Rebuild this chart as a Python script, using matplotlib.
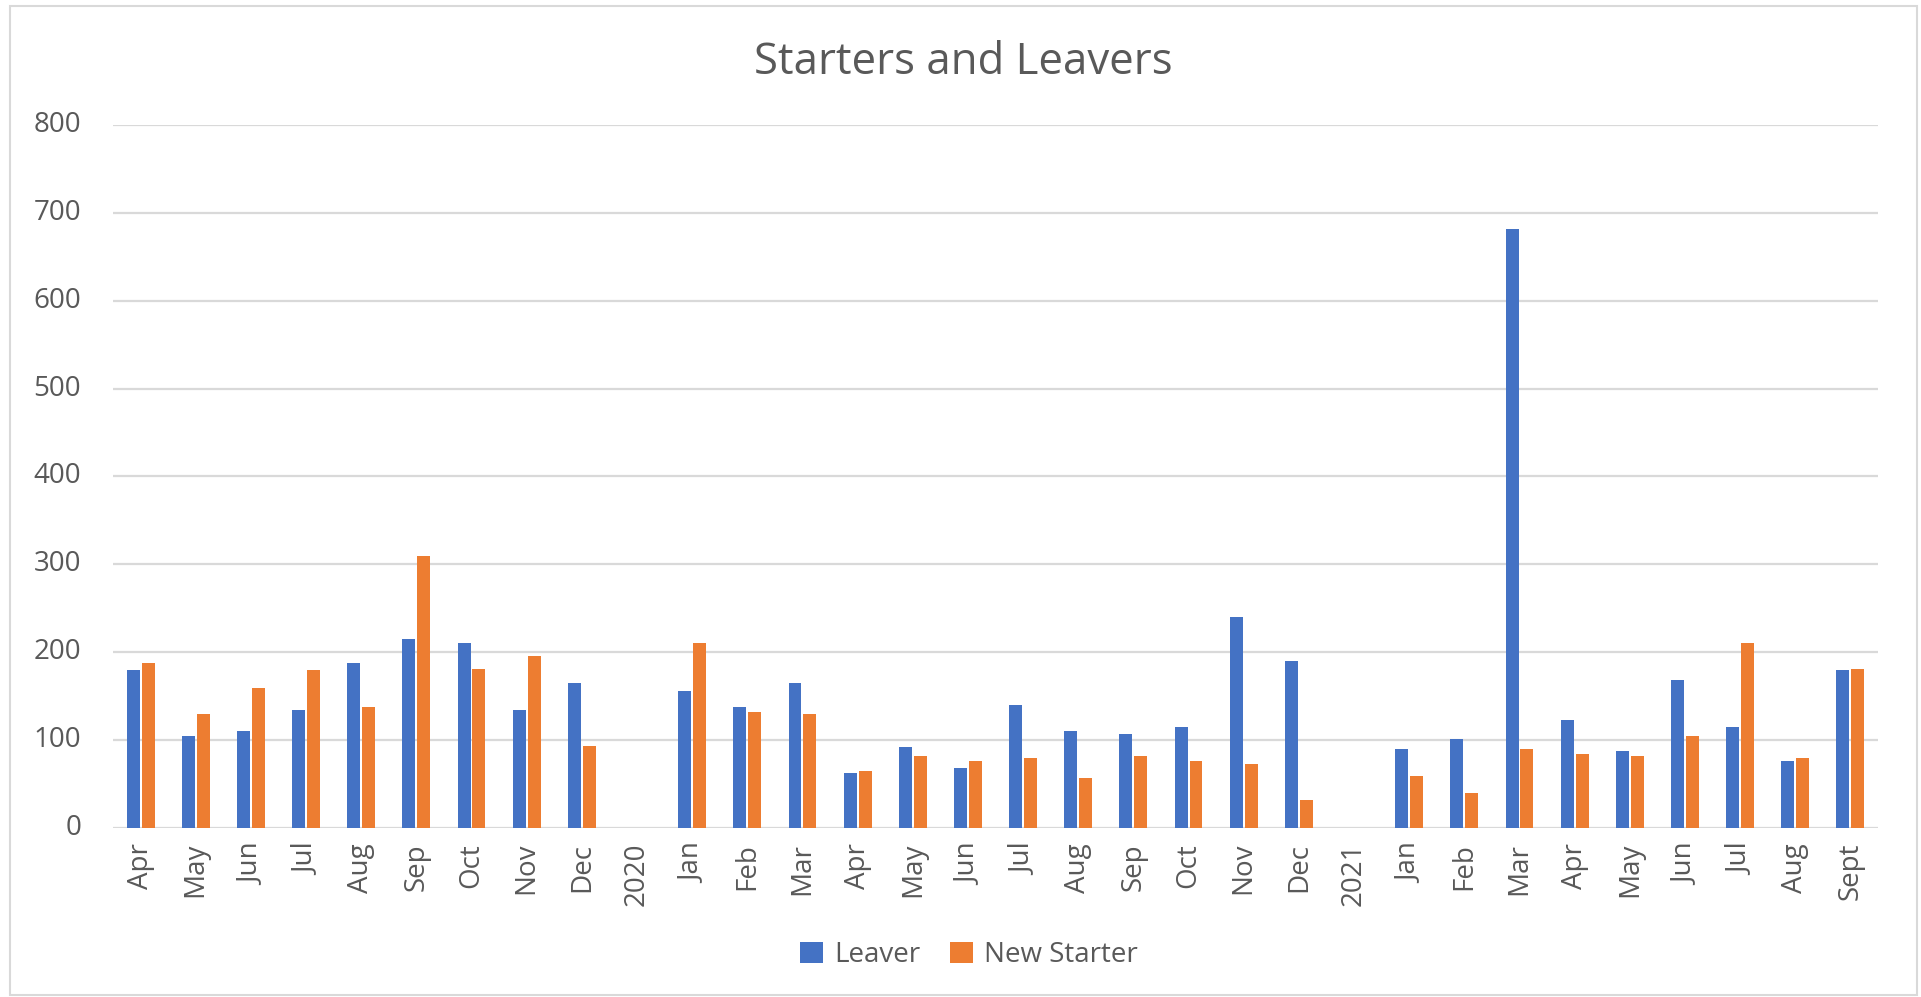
import numpy as np
import matplotlib
matplotlib.use("Agg")
import matplotlib.pyplot as plt
from matplotlib.patches import Rectangle

categories = ["Apr", "May", "Jun", "Jul", "Aug", "Sep", "Oct", "Nov", "Dec", "2020",
              "Jan", "Feb", "Mar", "Apr", "May", "Jun", "Jul", "Aug", "Sep", "Oct", "Nov", "Dec", "2021",
              "Jan", "Feb", "Mar", "Apr", "May", "Jun", "Jul", "Aug", "Sept"]
leaver = [179, 104, 110, 134, 187, 215, 210, 134, 165, np.nan,
          156, 137, 165, 62, 92, 68, 140, 110, 107, 115, 240, 190, np.nan,
          90, 101, 682, 123, 87, 168, 115, 76, 179]
new_starter = [187, 129, 159, 179, 137, 309, 181, 195, 93, np.nan,
               210, 132, 129, 65, 82, 76, 79, 57, 82, 76, 73, 32, np.nan,
               59, 40, 90, 84, 82, 104, 210, 79, 181]
series_names = ["Leaver", "New Starter"]
yticks = [0, 100, 200, 300, 400, 500, 600, 700, 800]

plt.rcParams['font.family'] = ['Open Sans', 'DejaVu Sans']
BLUE = "#4472C4"
ORANGE = "#ED7D31"
TXT = "#595959"
GRID = "#D9D9D9"

fig = plt.figure(figsize=(19.21, 9.97), dpi=100)
ax = fig.add_axes([113/1921, 1-827.7/997, (1878-113)/1921, (827.7-125)/997])

x = np.arange(len(categories))
w = 0.235
off = 0.135
ax.bar(x - off, leaver, width=w, color=BLUE, label=series_names[0], zorder=3)
ax.bar(x + off, new_starter, width=w, color=ORANGE, label=series_names[1], zorder=3)

ax.set_xlim(-0.5, len(categories) - 0.5)
ax.set_ylim(0, 800)
ax.set_yticks(yticks)
ax.set_yticklabels([str(v) for v in yticks])
ax.set_xticks(x)
ax.set_xticklabels(categories, rotation=90)
ax.tick_params(axis='y', length=0, pad=23, labelsize=20, labelcolor=TXT)
ax.tick_params(axis='x', length=0, pad=11, labelsize=20, labelcolor=TXT)
for lab in ax.get_yticklabels():
    lab.set_verticalalignment('center')

ax.grid(axis='y', color=GRID, linewidth=1.6, zorder=0)
for s in ax.spines.values():
    s.set_visible(False)

fig.text(963/1921, 1-63/997, "Starters and Leavers", ha='center', va='center',
         fontsize=31.5, color=TXT)

leg = fig.legend(loc='center', bbox_to_anchor=(969/1921, 1-955/997), ncol=2, frameon=False,
                 fontsize=20, labelcolor=TXT, handlelength=0.8, handleheight=0.8,
                 handletextpad=0.4, columnspacing=1.1)

fig.patches.append(Rectangle((10/1921, 2/997), (1917-10)/1921, (991-2)/997,
                             transform=fig.transFigure, fill=False,
                             edgecolor=GRID, linewidth=1.5))

fig.savefig("out.png", dpi=100)
